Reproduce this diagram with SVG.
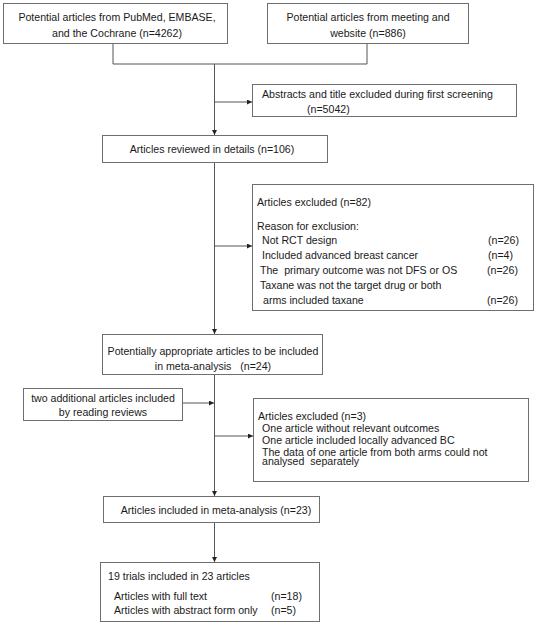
<svg xmlns="http://www.w3.org/2000/svg" width="539" height="626" viewBox="0 0 539 626">
<style>
.box{fill:#fff;stroke:#6e6e6e;stroke-width:1}
.t{font-family:"Liberation Sans",Arial,sans-serif;font-size:10.6px;fill:#1a1a1a}
.c{text-anchor:middle}
.ln{fill:none;stroke:#555;stroke-width:1}
</style>
<defs>
<marker id="ah" viewBox="0 0 5 5" refX="5" refY="2.5" markerWidth="5" markerHeight="5" orient="auto" markerUnits="userSpaceOnUse">
<path d="M0,0 L5,2.5 L0,5 z" fill="#222"/>
</marker>
</defs>
<rect width="539" height="626" fill="#fff"/>
<g id="connectors">
<path class="ln" d="M113,44 V64 H367 V44"/>
<path class="ln" d="M214.5,64 V135" marker-end="url(#ah)"/>
<path class="ln" d="M214.5,102 H252" marker-end="url(#ah)"/>
<path class="ln" d="M214.5,163 V334" marker-end="url(#ah)"/>
<path class="ln" d="M214.5,246 H252" marker-end="url(#ah)"/>
<path class="ln" d="M214.5,375 V496" marker-end="url(#ah)"/>
<path class="ln" d="M183,403 H214" marker-end="url(#ah)"/>
<path class="ln" d="M214.5,436 H253" marker-end="url(#ah)"/>
<path class="ln" d="M214.5,523 V562" marker-end="url(#ah)"/>
</g>
<g id="n1">
<rect class="box" x="3.5" y="3.5" width="224" height="40"/>
<text class="t c" x="117" y="21">Potential articles from PubMed, EMBASE,</text>
<text class="t c" x="117" y="37">and the Cochrane (n=4262)</text>
</g>
<g id="n2">
<rect class="box" x="267.5" y="3.5" width="201" height="40"/>
<text class="t c" x="368" y="21">Potential articles from meeting and</text>
<text class="t c" x="368" y="37">website (n=886)</text>
</g>
<g id="n3">
<rect class="box" x="252.5" y="84.5" width="264" height="32"/>
<text class="t" x="262" y="98">Abstracts and title excluded during first screening</text>
<text class="t" x="307" y="113">(n=5042)</text>
</g>
<g id="n4">
<rect class="box" x="102.5" y="135.5" width="225" height="27"/>
<text class="t c" x="212" y="152.5">Articles reviewed in details (n=106)</text>
</g>
<g id="n5">
<rect class="box" x="252.5" y="184.5" width="281" height="126"/>
<text class="t" x="257" y="206">Articles excluded (n=82)</text>
<text class="t" x="257" y="230">Reason for exclusion:</text>
<text class="t" x="262" y="244">Not RCT design</text>
<text class="t" x="488" y="244">(n=26)</text>
<text class="t" x="262" y="259">Included advanced breast cancer</text>
<text class="t" x="488" y="259">(n=4)</text>
<text class="t" x="260" y="274" xml:space="preserve">The  primary outcome was not DFS or OS</text>
<text class="t" x="487" y="274">(n=26)</text>
<text class="t" x="260" y="289">Taxane was not the target drug or both</text>
<text class="t" x="263" y="304">arms included taxane</text>
<text class="t" x="487" y="304">(n=26)</text>
</g>
<g id="n6">
<rect class="box" x="102.5" y="334.5" width="220" height="40"/>
<text class="t c" x="213" y="355">Potentially appropriate articles to be included</text>
<text class="t c" x="213" y="370" xml:space="preserve">in meta-analysis   (n=24)</text>
</g>
<g id="n7">
<rect class="box" x="23.5" y="388.5" width="159" height="32"/>
<text class="t c" x="103" y="402">two additional articles included</text>
<text class="t c" x="103" y="416">by reading reviews</text>
</g>
<g id="n8">
<rect class="box" x="253.5" y="398.5" width="275" height="83"/>
<text class="t" x="258" y="420">Articles excluded (n=3)</text>
<text class="t" x="262" y="432">One article without relevant outcomes</text>
<text class="t" x="262" y="444">One article included locally advanced BC</text>
<text class="t" x="262" y="456">The data of one article from both arms could not</text>
<text class="t" x="262" y="465" xml:space="preserve">analysed  separately</text>
</g>
<g id="n9">
<rect class="box" x="103.5" y="496.5" width="216" height="26"/>
<text class="t c" x="216" y="513.5">Articles included in meta-analysis (n=23)</text>
</g>
<g id="n10">
<rect class="box" x="100.5" y="562.5" width="219" height="59"/>
<text class="t" x="108" y="580">19 trials included in 23 articles</text>
<text class="t" x="114" y="600">Articles with full text</text>
<text class="t" x="271" y="600">(n=18)</text>
<text class="t" x="114" y="614">Articles with abstract form only</text>
<text class="t" x="271" y="614">(n=5)</text>
</g>
</svg>
